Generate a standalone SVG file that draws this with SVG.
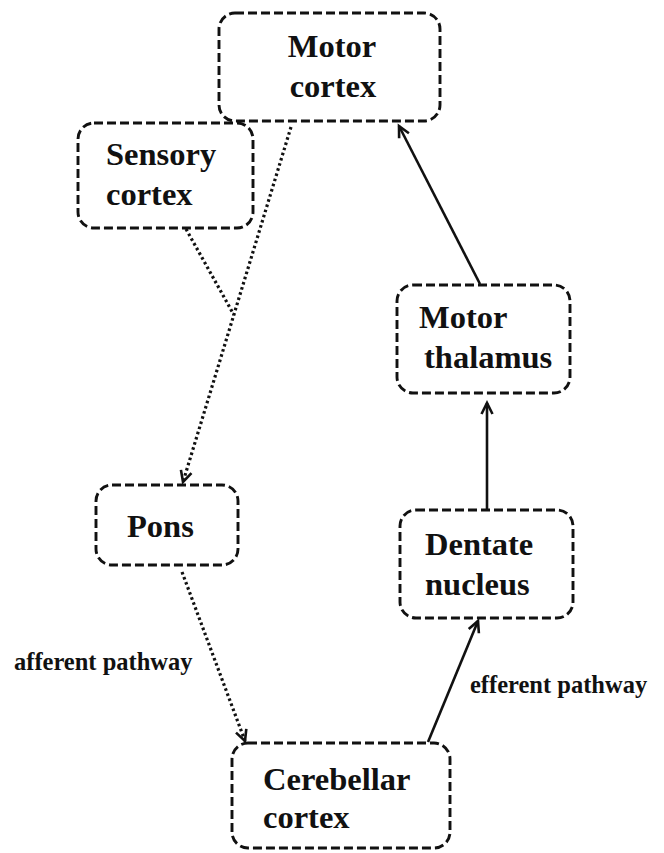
<svg xmlns="http://www.w3.org/2000/svg" width="664" height="853" viewBox="0 0 664 853">
<style>
.box{fill:none;stroke:#111;stroke-width:2.9;stroke-dasharray:9 4}
.lbl{font-family:"Liberation Serif","Times New Roman",serif;font-weight:bold;font-size:32.5px;fill:#111}
.note{font-family:"Liberation Serif","Times New Roman",serif;font-weight:bold;font-size:24.5px;fill:#111}
.solid{fill:none;stroke:#111;stroke-width:2.6}
.dot{fill:none;stroke:#111;stroke-width:3.2;stroke-dasharray:2.6 2.8}
</style>
<defs>
<marker id="arr" markerUnits="userSpaceOnUse" markerWidth="16" markerHeight="16" viewBox="-12 -8 14 16" refX="0" refY="0" orient="auto">
<path d="M-11,-5.5 L0,0 L-11,5.5" fill="none" stroke="#111" stroke-width="2.6"/>
</marker>
</defs>
<rect width="664" height="853" fill="#fff"/>
<g id="connectors">
<path class="dot" d="M291,127 L183,482" marker-end="url(#arr)"/>
<path class="dot" d="M186,229 L234,315"/>
<path class="dot" d="M182,572 L245,741" marker-end="url(#arr)"/>
<path class="solid" d="M428,742 L478,621" marker-end="url(#arr)"/>
<path class="solid" d="M487,510 L487,403" marker-end="url(#arr)"/>
<path class="solid" d="M480,284 L399,126" marker-end="url(#arr)"/>
</g>
<g id="motor-cortex">
<rect class="box" x="219" y="13" width="221" height="108" rx="16"/>
<text class="lbl" x="332" y="57" text-anchor="middle">Motor</text>
<text class="lbl" x="333" y="97" text-anchor="middle">cortex</text>
</g>
<g id="sensory-cortex">
<rect class="box" x="78" y="123" width="175" height="105" rx="16"/>
<text class="lbl" x="106" y="165">Sensory</text>
<text class="lbl" x="106" y="205">cortex</text>
</g>
<g id="motor-thalamus">
<rect class="box" x="397" y="285" width="173" height="108" rx="16"/>
<text class="lbl" x="419" y="328">Motor</text>
<text class="lbl" x="424" y="368">thalamus</text>
</g>
<g id="pons">
<rect class="box" x="96" y="485" width="142" height="80" rx="16"/>
<text class="lbl" x="127" y="537">Pons</text>
</g>
<g id="dentate-nucleus">
<rect class="box" x="400" y="510" width="173" height="108" rx="16"/>
<text class="lbl" x="425" y="555">Dentate</text>
<text class="lbl" x="425" y="595">nucleus</text>
</g>
<g id="cerebellar-cortex">
<rect class="box" x="232" y="743" width="218" height="105" rx="16"/>
<text class="lbl" x="263" y="790">Cerebellar</text>
<text class="lbl" x="263" y="828">cortex</text>
</g>
<g id="labels">
<text class="note" x="14" y="670">afferent pathway</text>
<text class="note" x="470" y="693">efferent pathway</text>
</g>
</svg>
